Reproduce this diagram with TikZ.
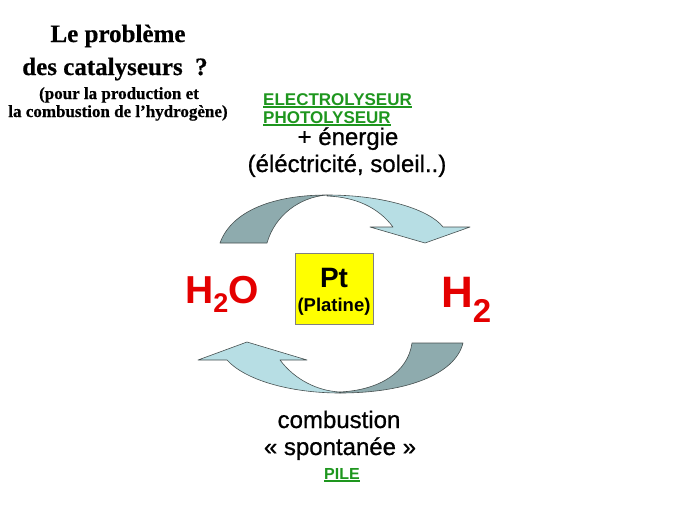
\documentclass[tikz,border=0pt]{standalone}
\usepackage{fontspec}
\setmainfont{Liberation Sans}
\newfontfamily\titlefont[FakeBold=0.6]{Liberation Serif}
\newfontfamily\medfont[FakeBold=0.8]{Liberation Sans}
\usetikzlibrary{positioning}
\usepackage{xcolor}

\definecolor{arrowdark}{RGB}{142,171,174}
\definecolor{arrowlight}{RGB}{183,222,228}
\definecolor{arrowline}{RGB}{70,80,80}
\definecolor{formred}{RGB}{228,0,0}
\definecolor{labgreen}{RGB}{30,150,30}
\definecolor{ptyellow}{RGB}{255,255,0}
\newcommand{\greenul}[1]{\vtop{\hbox{#1}\kern1.2pt\hrule height 2pt}}

\begin{document}
\begin{tikzpicture}[x=1pt,y=-1pt]
	\useasboundingbox (0,0) rectangle (689,517);
	% titre
	\begin{scope}[every node/.style={anchor=base,inner sep=0pt}]
		\node[font=\titlefont\bfseries\fontsize{25}{30}\selectfont] (probleme) at (118,42) {Le problème};
		\node[font=\titlefont\bfseries\fontsize{25}{30}\selectfont] (catal) at (115,75) {des catalyseurs~~?};
		\node[font=\titlefont\bfseries\fontsize{17}{20}\selectfont] (pour) at (119,99) {(pour la production et};
		\node[font=\titlefont\bfseries\fontsize{17}{20}\selectfont] (hydro) at (118,117) {la combustion de l’hydrogène)};
	\end{scope}
	% fleches courbes
	\begin{scope}[every path/.style={line width=0.6pt,line join=round}]
		\filldraw[fill=arrowdark,draw=arrowline] (220,243) .. controls (232,210) and (275,195) .. (327,195)
			.. controls (300,197) and (275,215) .. (267,243) -- cycle;
		\filldraw[fill=arrowlight,draw=arrowline] (327,195) .. controls (385,195) and (430,210) .. (443,227)
			-- (470,227) -- (425,243) -- (370,227) -- (393,227)
			.. controls (378,207) and (355,197) .. (327,196) -- cycle;
		\filldraw[fill=arrowlight,draw=arrowline] (340,393) .. controls (290,393) and (245,380) .. (227,360)
			-- (198,360) -- (247,342) -- (307,360) -- (280,360)
			.. controls (295,380) and (318,391) .. (340,392) -- cycle;
		\filldraw[fill=arrowdark,draw=arrowline] (340,393) .. controls (405,393) and (455,375) .. (463,343)
			-- (412,343) .. controls (408,372) and (380,390) .. (340,392) -- cycle;
	\end{scope}
	% textes
	\begin{scope}[every node/.style={anchor=base,inner sep=0pt}]
		\node[anchor=base west,font=\bfseries\fontsize{17}{20}\selectfont,text=labgreen] (electro) at (263,105) {\greenul{ELECTROLYSEUR}};
		\node[anchor=base west,font=\bfseries\fontsize{17}{20}\selectfont,text=labgreen] (photo) at (263,123) {\greenul{PHOTOLYSEUR}};
		\node[font=\medfont\fontsize{24}{28}\selectfont] (energie) at (348,145) {+ énergie};
		\node[font=\medfont\fontsize{24}{28}\selectfont] (elec) at (347,172) {(éléctricité, soleil..)};
		\node[draw=gray,fill=ptyellow,minimum width=78pt,minimum height=71pt,anchor=center] (pt) at (334,288.5) {};
		\node[font=\bfseries\fontsize{28}{30}\selectfont] (ptsym) at (334,287) {Pt};
		\node[font=\bfseries\fontsize{18.5}{20}\selectfont] (platine) at (334,311) {(Platine)};
		\node[anchor=base west,font=\bfseries\fontsize{39}{40}\selectfont,text=formred] (water) at (185,303) {H\raisebox{-9pt}{\fontsize{27}{28}\selectfont 2}O};
		\node[anchor=base west,font=\bfseries\fontsize{44}{46}\selectfont,text=formred] (hydrogen) at (441,307) {H\raisebox{-15pt}{\fontsize{33}{34}\selectfont 2}};
		\node[font=\medfont\fontsize{24}{28}\selectfont] (combustion) at (339,428) {combustion};
		\node[font=\medfont\fontsize{24}{28}\selectfont] (spontanee) at (340,455) {« spontanée »};
		\node[font=\bfseries\fontsize{16}{20}\selectfont,text=labgreen] (pile) at (342,479) {\greenul{PILE}};
	\end{scope}
\end{tikzpicture}
\end{document}
